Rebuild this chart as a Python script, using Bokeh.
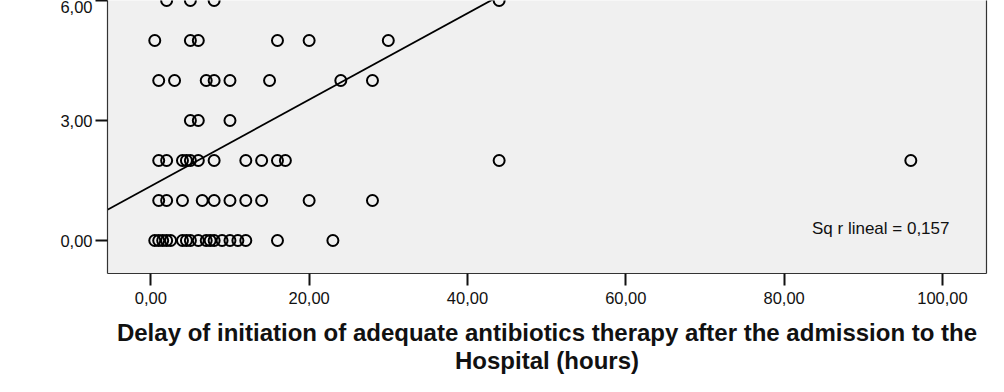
from bokeh.plotting import figure
from bokeh.models import Range1d, FixedTicker, LinearAxis, Label
from bokeh.embed import file_html
from bokeh.resources import INLINE

# Score levels (y) and the delays (hours, x) observed at each level
score_levels = [0, 1, 2, 3, 4, 5, 6]
delays_score_0 = [0.5, 1, 1.5, 2, 2.5, 4, 4.5, 5, 6, 7, 7.5, 8, 9, 10, 11, 12, 16, 23]
delays_score_1 = [1, 2, 4, 6.5, 8, 10, 12, 14, 20, 28]
delays_score_2 = [1, 2, 4, 4.5, 5, 6, 8, 12, 14, 16, 17, 44, 96]
delays_score_3 = [5, 6, 10]
delays_score_4 = [1, 3, 7, 8, 10, 15, 24, 28]
delays_score_5 = [0.5, 5, 6, 16, 20, 30]
delays_score_6 = [2, 5, 8, 44]

# Linear fit
fit_intercept = 1.36
fit_slope = 0.108
r_squared_label = "Sq r lineal = 0,157"

x_ticks = [0, 20, 40, 60, 80, 100]
x_tick_labels = ["0,00", "20,00", "40,00", "60,00", "80,00", "100,00"]
y_ticks = [0, 3, 6]
y_tick_labels = ["0,00", "3,00", "6,00"]
x_title = "Delay of initiation of adequate antibiotics therapy after the admission to the\nHospital (hours)"

rows = [delays_score_0, delays_score_1, delays_score_2, delays_score_3,
        delays_score_4, delays_score_5, delays_score_6]
xs, ys = [], []
for lvl, row in zip(score_levels, rows):
    xs.extend(row)
    ys.extend([lvl] * len(row))

x_start, x_end = -5.47, 105.56
y_start, y_end = -0.825, 6.0

p = figure(width=1004, height=392, output_backend="svg", toolbar_location=None,
           x_range=Range1d(x_start, x_end), y_range=Range1d(y_start, y_end),
           min_border_left=107, min_border_right=18, min_border_top=0, min_border_bottom=119)

p.background_fill_color = "#f0f0f0"
p.border_fill_color = "white"
p.outline_line_color = None
p.xgrid.visible = False
p.ygrid.visible = False

font = "Liberation Sans"
axcol = "#333333"

xa = p.xaxis[0]
xa.ticker = FixedTicker(ticks=x_ticks)
xa.major_label_overrides = dict(zip(x_ticks, x_tick_labels))
ya = p.yaxis[0]
ya.ticker = FixedTicker(ticks=y_ticks)
ya.major_label_overrides = dict(zip(y_ticks, y_tick_labels))

for ax in (xa, ya):
    ax.axis_line_color = axcol
    ax.axis_line_width = 1.2
    ax.major_tick_line_color = "#111111"
    ax.major_tick_line_width = 2
    ax.major_tick_out = 12
    ax.major_tick_in = 0
    ax.minor_tick_line_color = None
    ax.major_label_text_font = font
    ax.major_label_text_font_size = "16.5px"
    ax.major_label_text_color = "#111111"
    ax.major_label_standoff = 3
xa.major_label_standoff = 6

xa.axis_label = x_title
xa.axis_label_text_font = font
xa.axis_label_text_font_style = "bold"
xa.axis_label_text_font_size = "24px"
xa.axis_label_text_color = "#111111"
xa.axis_label_standoff = 12
xa.axis_label_text_line_height = 1.05

right_axis = LinearAxis(ticker=FixedTicker(ticks=[]), axis_line_color=axcol, axis_line_width=1.2,
                        major_tick_line_color=None, minor_tick_line_color=None,
                        major_label_text_font_size="0px")
p.add_layout(right_axis, "right")

p.line([x_start, x_end], [fit_intercept + fit_slope * x_start, fit_intercept + fit_slope * x_end],
       line_color="black", line_width=1.8)

p.scatter(xs, ys, marker="circle", size=11, fill_color=None, line_color="black", line_width=2)

p.add_layout(Label(x=92.2, y=0.3, text=r_squared_label, text_font=font, text_font_size="17px",
                   text_align="center", text_baseline="middle", text_color="#111111"))

open("out.html", "w").write(file_html(p, INLINE))
